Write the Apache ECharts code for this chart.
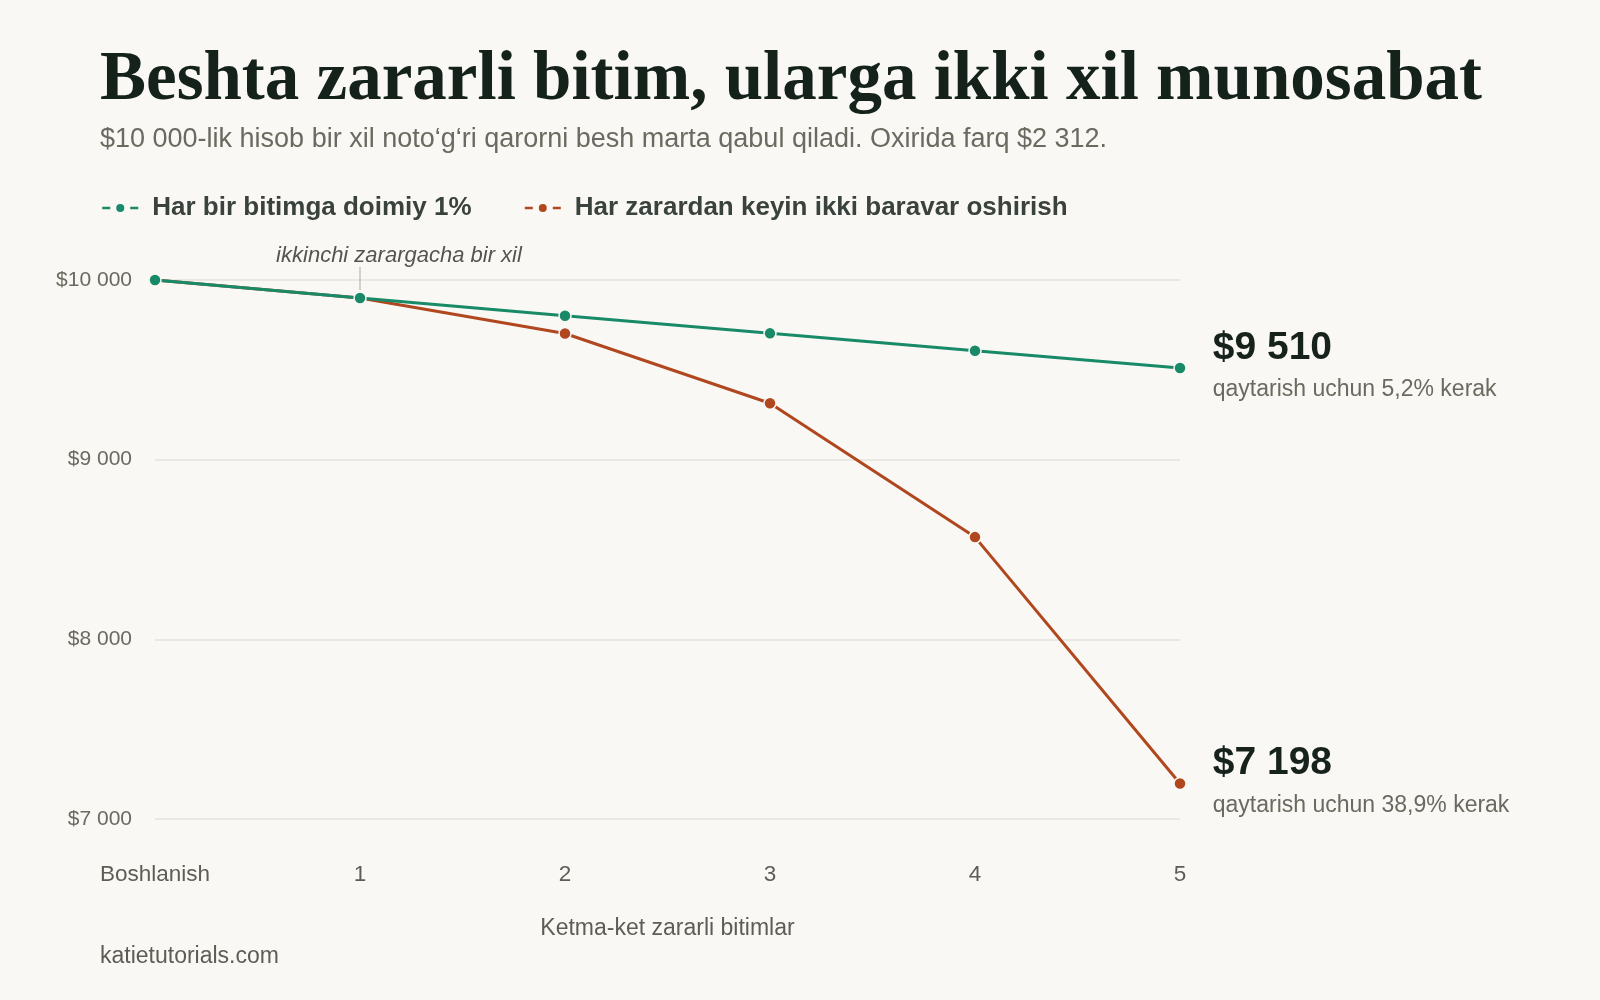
<!DOCTYPE html>
<html lang="uz" style="height: 100%">
<head>
  <meta charset="utf-8">
</head>
<body style="height: 100%; margin: 0; background: #f9f8f4">
  <div id="container" style="height: 100%"></div>

  <script type="text/javascript" src="https://cdn.jsdelivr.net/npm/echarts@6/dist/echarts.min.js"></script>

  <script type="text/javascript">
    // data
    var steps = ['Boshlanish', '1', '2', '3', '4', '5'];
    var fixedRisk = [10000, 9900, 9801, 9703, 9606, 9510];
    var doubling = [10000, 9900, 9702, 9314, 8569, 7198];
    var seriesNames = ['Har bir bitimga doimiy 1%', 'Har zarardan keyin ikki baravar oshirish'];
    var endNotes = ['qaytarish uchun 5,2% kerak', 'qaytarish uchun 38,9% kerak'];
    var yTicks = [7000, 8000, 9000, 10000];

    var GREEN = '#188a68';
    var RUST = '#b1471f';
    var BG = '#f9f8f4';
    var SANS = '"Liberation Sans", Arial, sans-serif';

    function money(v) {
      return '$' + String(v).replace(/\B(?=(\d{3})+(?!\d))/g, ' ');
    }

    function withEndLabel(values, note) {
      return values.map(function (v, i) {
        if (i !== values.length - 1) return v;
        return {
          value: v,
          label: {
            show: true,
            position: 'right',
            distance: 26,
            offset: [0, 1],
            formatter: '{a|' + money(v) + '}\n{b|' + note + '}',
            rich: {
              a: { fontFamily: SANS, fontSize: 39, fontWeight: 'bold', color: '#17221d', lineHeight: 42 },
              b: { fontFamily: SANS, fontSize: 23, color: '#6b6a60', lineHeight: 42 }
            }
          }
        };
      });
    }

    var dom = document.getElementById('container');
    var myChart = echarts.init(dom, null, { renderer: 'canvas' });

    var footer = {
      type: 'text',
      left: 100,
      top: 945,
      style: { text: 'katietutorials.com', fontFamily: SANS, fontSize: 23, fill: '#5e5d55' }
    };

    var option = {
      backgroundColor: BG,
      animation: false,
      title: {
        text: 'Beshta zararli bitim, ularga ikki xil munosabat',
        subtext: '$10 000-lik hisob bir xil noto\u2018g\u2018ri qarorni besh marta qabul qiladi. Oxirida farq $2 312.',
        left: 95,
        top: 42,
        itemGap: 10,
        textStyle: {
          fontFamily: '"Liberation Serif", Georgia, serif',
          fontWeight: 'bold',
          fontSize: 69,
          color: '#15221c'
        },
        subtextStyle: {
          fontFamily: SANS,
          fontSize: 27,
          color: '#6b6a60'
        }
      },
      legend: {
        data: seriesNames,
        left: 96,
        top: 190,
        itemWidth: 36,
        itemHeight: 10,
        itemGap: 52,
        lineStyle: { type: [8, 20], width: 2.5 },
        itemStyle: { borderWidth: 0 },
        textStyle: {
          fontFamily: SANS,
          fontSize: 26,
          fontWeight: 'bold',
          color: '#3a423d',
          padding: [0, 0, 0, 9]
        }
      },
      grid: { left: 155, right: 420, top: 280, bottom: 181 },
      xAxis: {
        type: 'category',
        data: steps,
        boundaryGap: false,
        name: 'Ketma-ket zararli bitimlar',
        nameLocation: 'middle',
        nameGap: 98,
        nameTextStyle: { fontFamily: SANS, fontSize: 23, color: '#5e5d55' },
        axisLine: { show: false },
        axisTick: { show: false },
        axisLabel: { margin: 44, fontFamily: SANS, fontSize: 22.5, color: '#5e5d55' }
      },
      yAxis: {
        type: 'value',
        min: yTicks[0],
        max: yTicks[yTicks.length - 1],
        interval: 1000,
        axisLine: { show: false },
        axisTick: { show: false },
        axisLabel: {
          margin: 23,
          fontFamily: SANS,
          fontSize: 21,
          color: '#6b6a60',
          formatter: money
        },
        splitLine: { lineStyle: { color: '#e5e3dd', width: 1.5 } }
      },
      series: [
        {
          name: seriesNames[1],
          type: 'line',
          z: 2,
          data: withEndLabel(doubling, endNotes[1]),
          symbol: 'circle',
          symbolSize: 12,
          lineStyle: { color: RUST, width: 3 },
          itemStyle: { color: RUST, borderColor: BG, borderWidth: 1.5 }
        },
        {
          name: seriesNames[0],
          type: 'line',
          z: 3,
          data: withEndLabel(fixedRisk, endNotes[0]),
          symbol: 'circle',
          symbolSize: 12,
          lineStyle: { color: GREEN, width: 3 },
          itemStyle: { color: GREEN, borderColor: BG, borderWidth: 1.5 }
        }
      ],
      graphic: [footer]
    };

    myChart.setOption(option);

    // note above the point where both strategies still agree
    var p = myChart.convertToPixel({ gridIndex: 0 }, [1, fixedRisk[1]]);
    myChart.setOption({
      graphic: [
        footer,
        {
          type: 'line',
          shape: { x1: p[0], y1: p[1] - 31, x2: p[0], y2: p[1] - 8 },
          style: { stroke: '#b9b7b0', lineWidth: 1.2 },
          z: 1
        },
        {
          type: 'text',
          x: p[0] + 39,
          y: p[1] - 42,
          style: {
            text: 'ikkinchi zarargacha bir xil',
            fontFamily: SANS,
            fontStyle: 'italic',
            fontSize: 22,
            fill: '#55554f',
            align: 'center',
            verticalAlign: 'middle'
          }
        }
      ]
    });

    window.addEventListener('resize', myChart.resize);
  </script>
</body>
</html>
